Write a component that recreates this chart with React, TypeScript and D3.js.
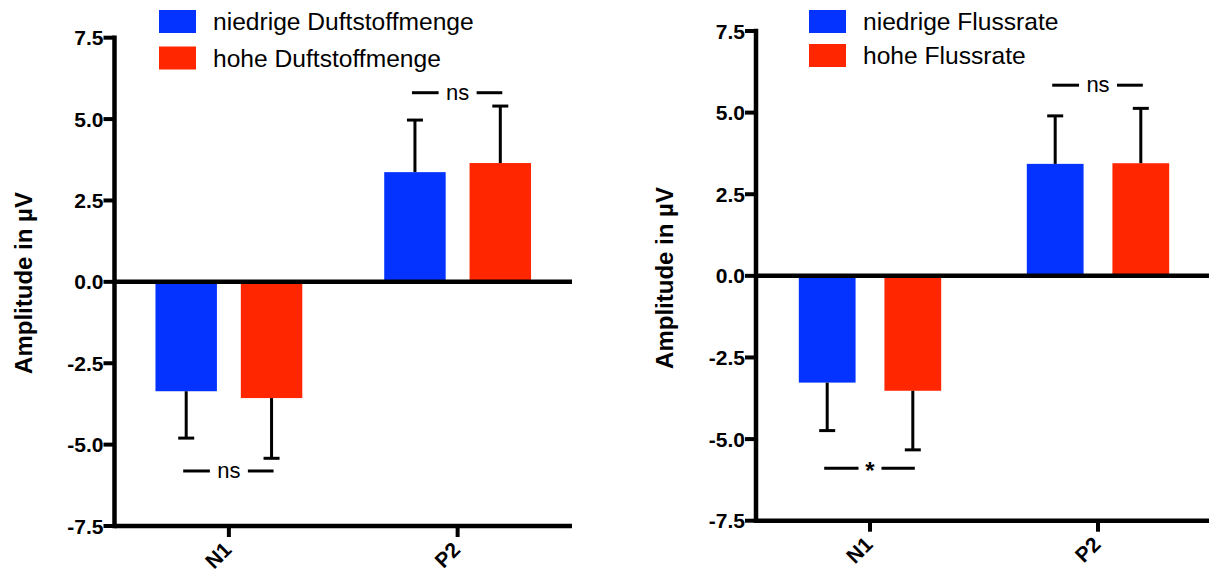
import React from "react";
import * as d3 from "d3";

// Event-related potential amplitudes (mean ± SEM) for the N1 and P2 components
const categories = ["N1", "P2"];
const yTicks = [-7.5, -5.0, -2.5, 0.0, 2.5, 5.0, 7.5];

// Panel A: odorant quantity
const odorSeries = ["niedrige Duftstoffmenge", "hohe Duftstoffmenge"];
const odorLowMean = [-3.36, 3.37];
const odorHighMean = [-3.57, 3.65];
const odorLowSem = [1.44, 1.6];
const odorHighSem = [1.85, 1.75];
const odorSignif = ["ns", "ns"];
const odorSignifLevel = [-5.81, 5.81];

// Panel B: flow rate
const flowSeries = ["niedrige Flussrate", "hohe Flussrate"];
const flowLowMean = [-3.27, 3.43];
const flowHighMean = [-3.52, 3.45];
const flowLowSem = [1.47, 1.47];
const flowHighSem = [1.81, 1.68];
const flowSignif = ["*", "ns"];
const flowSignifLevel = [-5.89, 5.84];

const seriesColors = ["#0433FF", "#FF2600"];
const FONT = "'Liberation Sans', Arial, Helvetica, sans-serif";

type PanelProps = {
  series: string[];
  means: number[][];
  sems: number[][];
  signif: string[];
  signifLevel: number[];
  x0: number;
  x1: number;
  yTop: number;
  yBottom: number;
  padInner: number;
  padOuter: number;
  legendX: number;
  legendY: number[];
  titleX: number;
  titleY: number;
};

// plain hyphen-minus, one decimal
const fmt = (v: number) => v.toFixed(1);

function Panel(p: PanelProps) {
  const y = d3.scaleLinear().domain([-7.5, 7.5]).range([p.yBottom, p.yTop]);
  const xCat = d3.scaleBand<string>().domain(categories).range([p.x0, p.x1]).padding(0);
  const xSer = d3
    .scaleBand<string>()
    .domain(p.series)
    .range([0, xCat.bandwidth()])
    .paddingInner(p.padInner)
    .paddingOuter(p.padOuter);
  const axisW = 4.5;
  const capHalf = 8;

  return (
    <g>
      {/* bars */}
      {categories.map((c, ci) =>
        p.series.map((s, si) => {
          const v = p.means[si][ci];
          const bx = (xCat(c) as number) + (xSer(s) as number);
          return (
            <rect
              key={c + s}
              x={bx}
              y={Math.min(y(v), y(0))}
              width={xSer.bandwidth()}
              height={Math.abs(y(v) - y(0))}
              fill={seriesColors[si]}
            />
          );
        })
      )}
      {/* error bars */}
      {categories.map((c, ci) =>
        p.series.map((s, si) => {
          const v = p.means[si][ci];
          const e = p.sems[si][ci];
          const end = v < 0 ? v - e : v + e;
          const cx = (xCat(c) as number) + (xSer(s) as number) + xSer.bandwidth() / 2;
          return (
            <g key={"e" + c + s} stroke="#000" strokeWidth={3}>
              <line x1={cx} x2={cx} y1={y(v)} y2={y(end)} />
              <line x1={cx - capHalf} x2={cx + capHalf} y1={y(end)} y2={y(end)} />
            </g>
          );
        })
      )}
      {/* significance brackets */}
      {categories.map((c, ci) => {
        const left = (xCat(c) as number) + (xSer(p.series[0]) as number) + xSer.bandwidth() / 2;
        const right = (xCat(c) as number) + (xSer(p.series[1]) as number) + xSer.bandwidth() / 2;
        const mid = (left + right) / 2;
        const star = p.signif[ci] === "*";
        const gap = star ? 11.5 : 19;
        const yy = y(p.signifLevel[ci]);
        return (
          <g key={"s" + c}>
            <line x1={left - 3} x2={mid - gap} y1={yy} y2={yy} stroke="#000" strokeWidth={3} />
            <line x1={mid + gap} x2={right + 2} y1={yy} y2={yy} stroke="#000" strokeWidth={3} />
            <text
              x={mid}
              y={star ? yy + 11 : yy + 7}
              textAnchor="middle"
              fontFamily={FONT}
              fontSize={star ? 24 : 22}
              fontWeight={star ? "bold" : "normal"}
            >
              {p.signif[ci]}
            </text>
          </g>
        );
      })}
      {/* zero line */}
      <line x1={p.x0} x2={p.x1} y1={y(0)} y2={y(0)} stroke="#000" strokeWidth={axisW} />
      {/* y axis */}
      <line
        x1={p.x0}
        x2={p.x0}
        y1={y(7.5) - axisW / 2}
        y2={y(-7.5) + axisW / 2}
        stroke="#000"
        strokeWidth={axisW}
      />
      {yTicks.map((t) => (
        <g key={"t" + t}>
          <line x1={p.x0 - 11} x2={p.x0} y1={y(t)} y2={y(t)} stroke="#000" strokeWidth={4} />
          <text
            x={p.x0 - 11}
            y={y(t)}
            dy="0.36em"
            textAnchor="end"
            fontFamily={FONT}
            fontSize={21}
            fontWeight="bold"
          >
            {fmt(t)}
          </text>
        </g>
      ))}
      {/* x axis */}
      <line x1={p.x0} x2={p.x1} y1={y(-7.5)} y2={y(-7.5)} stroke="#000" strokeWidth={axisW} />
      {categories.map((c) => {
        const cx = (xCat(c) as number) + xCat.bandwidth() / 2;
        return (
          <g key={"x" + c}>
            <line x1={cx} x2={cx} y1={y(-7.5)} y2={y(-7.5) + 11} stroke="#000" strokeWidth={4} />
            <text
              transform={`translate(${cx + 4},${y(-7.5) + 25}) rotate(-45)`}
              textAnchor="end"
              fontFamily={FONT}
              fontSize={21}
              fontWeight="bold"
            >
              {c}
            </text>
          </g>
        );
      })}
      {/* y axis title */}
      <text
        transform={`translate(${p.titleX},${p.titleY}) rotate(-90)`}
        textAnchor="middle"
        fontFamily={FONT}
        fontSize={24}
        fontWeight="bold"
      >
        Amplitude in µV
      </text>
      {/* legend */}
      {p.series.map((s, si) => (
        <g key={"l" + s}>
          <rect x={p.legendX} y={p.legendY[si]} width={37} height={23} fill={seriesColors[si]} />
          <text
            x={p.legendX + 54}
            y={p.legendY[si] + 11.5}
            dy="0.36em"
            fontFamily={FONT}
            fontSize={24.6}
          >
            {s}
          </text>
        </g>
      ))}
    </g>
  );
}

export default function App() {
  return (
    <svg
      width={1209}
      height={574}
      style={{ position: "absolute", left: 0, top: 0, background: "#fff" }}
    >
      <rect width={1209} height={574} fill="#fff" />
      <Panel
        series={odorSeries}
        means={[odorLowMean, odorHighMean]}
        sems={[odorLowSem, odorHighSem]}
        signif={odorSignif}
        signifLevel={odorSignifLevel}
        x0={114.5}
        x1={572}
        yTop={37.7}
        yBottom={526}
        padInner={0.28}
        padOuter={0.48}
        legendX={159}
        legendY={[10, 46.5]}
        titleX={32}
        titleY={283}
      />
      <Panel
        series={flowSeries}
        means={[flowLowMean, flowHighMean]}
        sems={[flowLowSem, flowHighSem]}
        signif={flowSignif}
        signifLevel={flowSignifLevel}
        x0={756}
        x1={1212}
        yTop={31}
        yBottom={520.7}
        padInner={0.337}
        padOuter={0.5}
        legendX={809}
        legendY={[10, 44]}
        titleX={673}
        titleY={278}
      />
    </svg>
  );
}
